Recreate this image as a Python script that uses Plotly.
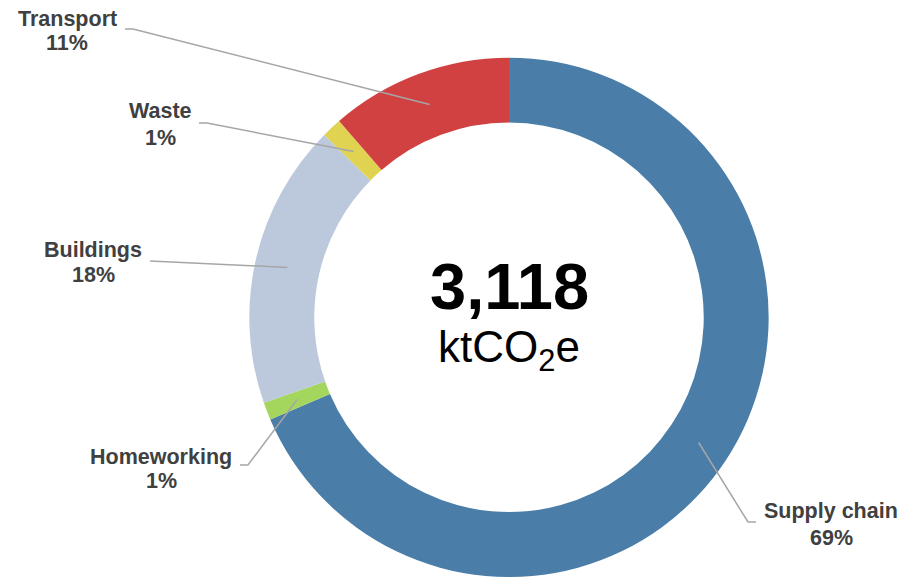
import math
import plotly.graph_objects as go

categories = ["Supply chain", "Homeworking", "Buildings", "Waste", "Transport"]
values_kt = [2138, 34, 553, 39, 354]
colors = ["#4A7EA8", "#A4D65E", "#BCC8DC", "#E0D352", "#D14141"]
unit_label = "ktCO<sub>2</sub>e"

W, H = 904, 577
# label layout: (text centre x, name centre y, pct centre y, knee x, knee y, end x)
label_pos = {
    "Supply chain": (831, 510, 537, 748, 522, 756),
    "Homeworking": (161, 456, 480, 248, 465, 240),
    "Buildings": (93, 249, 274, 150, 261, 150),
    "Waste": (160, 110, 137, 207, 123, 199),
    "Transport": (67, 18, 42, 133, 29, 125),
}

total = sum(values_kt)

cx_px = 509
y_dom = [0.0, 0.9]
R = (y_dom[1] - y_dom[0]) * H / 2
cy_px = H - (y_dom[0] + y_dom[1]) / 2 * H
hole = 0.75
x_half = R / W
x_dom = [cx_px / W - x_half, cx_px / W + x_half]

fig = go.Figure()
fig.add_trace(go.Pie(
    labels=categories,
    values=values_kt,
    sort=False,
    direction="clockwise",
    rotation=0,
    hole=hole,
    marker=dict(colors=colors, line=dict(width=0)),
    textinfo="none",
    hoverinfo="label+percent",
    showlegend=False,
    domain=dict(x=x_dom, y=y_dom),
))

def to_paper(px, py):
    return px / W, 1 - py / H

FONT = "Liberation Sans, Arial, sans-serif"
shapes = []
annotations = []
cum = 0
rmid = R * (1 + hole) / 2
for cat, v in zip(categories, values_kt):
    mid = (cum + v / 2) / total * 2 * math.pi
    cum += v
    sx = cx_px + rmid * math.sin(mid)
    sy = cy_px - rmid * math.cos(mid)
    tx, ny, py_, kx, ky, ex = label_pos[cat]
    p1 = to_paper(sx, sy)
    p2 = to_paper(kx, ky)
    p3 = to_paper(ex, ky)
    shapes.append(dict(
        type="path", xref="paper", yref="paper",
        path=f"M {p1[0]} {p1[1]} L {p2[0]} {p2[1]} L {p3[0]} {p3[1]}",
        line=dict(color="#A6A6A6", width=1.5),
    ))
    pct = round(v / total * 100)
    for txt, yy in ((cat, ny), (f"{pct}%", py_)):
        ax, ay = to_paper(tx, yy + 1)
        annotations.append(dict(
            x=ax, y=ay, xref="paper", yref="paper", showarrow=False,
            text=f"<b>{txt}</b>",
            font=dict(family=FONT, size=21.5, color="#404040"),
            xanchor="center", yanchor="middle", align="center",
        ))

annotations.append(dict(
    x=cx_px / W, y=1 - 286 / H, xref="paper", yref="paper", showarrow=False,
    text=f"<b>{total:,}</b>",
    font=dict(family=FONT, size=65, color="#000000"),
    xanchor="center", yanchor="middle",
))
annotations.append(dict(
    x=cx_px / W, y=1 - 350 / H, xref="paper", yref="paper", showarrow=False,
    text=unit_label,
    font=dict(family=FONT, size=44, color="#000000"),
    xanchor="center", yanchor="middle",
))

fig.update_layout(
    width=W, height=H,
    margin=dict(l=0, r=0, t=0, b=0),
    paper_bgcolor="white", plot_bgcolor="white",
    shapes=shapes, annotations=annotations,
)

fig.write_html("out.html", config={"displayModeBar": False},
               post_script="document.body.style.margin='0';")
